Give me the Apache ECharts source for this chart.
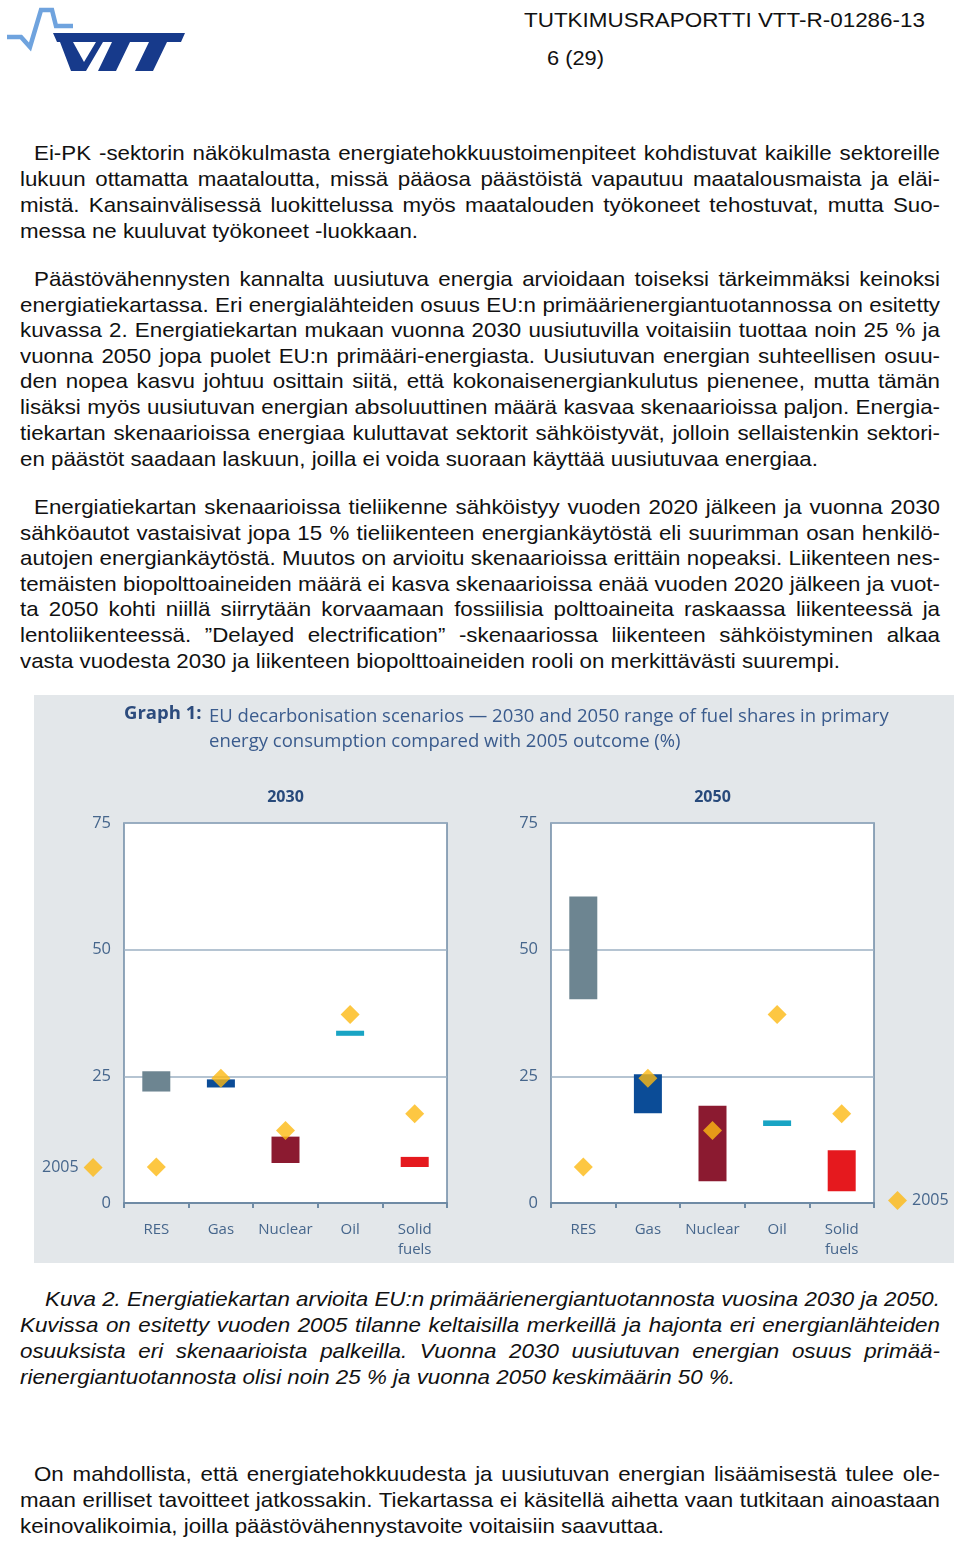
<!DOCTYPE html>
<html><head><meta charset="utf-8">
<script src="https://cdn.jsdelivr.net/npm/echarts@6/dist/echarts.min.js"></script>
<style>
html,body{margin:0;padding:0;background:#fff;}
body{width:960px;height:1541px;position:relative;overflow:hidden;font-family:"Liberation Sans",Arial,sans-serif;color:#111;}
.ln{position:absolute;white-space:nowrap;font-size:21px;line-height:26px;transform-origin:0 50%;display:inline-block;}
.it{font-style:italic;}
#chart{position:absolute;left:34px;top:695px;width:920px;height:568px;}
#logo{position:absolute;left:0;top:0;}
</style></head><body>
<svg id="logo" width="200" height="80" viewBox="0 0 200 80">
  <polyline points="7,37 21,37 30,47 41,10 52,10 56,26 73,26" fill="none" stroke="#6fa3de" stroke-width="4.5" stroke-linejoin="miter"/>
  <polygon fill="#173a8b" points="53,33 185,33 181,42 167,42 153,71 135,71 149,42 130,42 116,71 98,71 112,42 103,42 86,71 71,71 60,42 57,42"/>
  <polygon fill="#ffffff" points="73,42 96,42 84,62"/>
</svg>
<div class="ln" data-p="h1" data-x0="524" data-x1="925" style="top:7px">TUTKIMUSRAPORTTI VTT-R-01286-13</div>
<div class="ln" data-p="h2" data-x0="547" data-x1="604" style="top:45px">6 (29)</div>

<div class="ln" data-p="p1" data-j="1" data-x0="34" data-x1="940" style="top:140px">Ei-PK -sektorin näkökulmasta energiatehokkuustoimenpiteet kohdistuvat kaikille sektoreille</div>
<div class="ln" data-p="p1" data-j="1" data-x0="20" data-x1="940" style="top:166px">lukuun ottamatta maataloutta, missä pääosa päästöistä vapautuu maatalousmaista ja eläi-</div>
<div class="ln" data-p="p1" data-j="1" data-x0="20" data-x1="940" style="top:192px">mistä. Kansainvälisessä luokittelussa myös maatalouden työkoneet tehostuvat, mutta Suo-</div>
<div class="ln" data-p="p1" data-x0="20" data-x1="418" style="top:218px">messa ne kuuluvat työkoneet -luokkaan.</div>

<div class="ln" data-p="p2" data-j="1" data-x0="34" data-x1="940" style="top:266px">Päästövähennysten kannalta uusiutuva energia arvioidaan toiseksi tärkeimmäksi keinoksi</div>
<div class="ln" data-p="p2" data-j="1" data-x0="20" data-x1="940" style="top:292px">energiatiekartassa. Eri energialähteiden osuus EU:n primäärienergiantuotannossa on esitetty</div>
<div class="ln" data-p="p2" data-j="1" data-x0="20" data-x1="940" style="top:317px">kuvassa 2. Energiatiekartan mukaan vuonna 2030 uusiutuvilla voitaisiin tuottaa noin 25 % ja</div>
<div class="ln" data-p="p2" data-j="1" data-x0="20" data-x1="940" style="top:343px">vuonna 2050 jopa puolet EU:n primääri-energiasta. Uusiutuvan energian suhteellisen osuu-</div>
<div class="ln" data-p="p2" data-j="1" data-x0="20" data-x1="940" style="top:368px">den nopea kasvu johtuu osittain siitä, että kokonaisenergiankulutus pienenee, mutta tämän</div>
<div class="ln" data-p="p2" data-j="1" data-x0="20" data-x1="940" style="top:394px">lisäksi myös uusiutuvan energian absoluuttinen määrä kasvaa skenaarioissa paljon. Energia-</div>
<div class="ln" data-p="p2" data-j="1" data-x0="20" data-x1="940" style="top:420px">tiekartan skenaarioissa energiaa kuluttavat sektorit sähköistyvät, jolloin sellaistenkin sektori-</div>
<div class="ln" data-p="p2" data-x0="20" data-x1="818" style="top:446px">en päästöt saadaan laskuun, joilla ei voida suoraan käyttää uusiutuvaa energiaa.</div>

<div class="ln" data-p="p3" data-j="1" data-x0="34" data-x1="940" style="top:494px">Energiatiekartan skenaarioissa tieliikenne sähköistyy vuoden 2020 jälkeen ja vuonna 2030</div>
<div class="ln" data-p="p3" data-j="1" data-x0="20" data-x1="940" style="top:520px">sähköautot vastaisivat jopa 15 % tieliikenteen energiankäytöstä eli suurimman osan henkilö-</div>
<div class="ln" data-p="p3" data-j="1" data-x0="20" data-x1="940" style="top:545px">autojen energiankäytöstä. Muutos on arvioitu skenaarioissa erittäin nopeaksi. Liikenteen nes-</div>
<div class="ln" data-p="p3" data-j="1" data-x0="20" data-x1="940" style="top:571px">temäisten biopolttoaineiden määrä ei kasva skenaarioissa enää vuoden 2020 jälkeen ja vuot-</div>
<div class="ln" data-p="p3" data-j="1" data-x0="20" data-x1="940" style="top:596px">ta 2050 kohti niillä siirrytään korvaamaan fossiilisia polttoaineita raskaassa liikenteessä ja</div>
<div class="ln" data-p="p3" data-j="1" data-x0="20" data-x1="940" style="top:622px">lentoliikenteessä. ”Delayed electrification” -skenaariossa liikenteen sähköistyminen alkaa</div>
<div class="ln" data-p="p3" data-x0="20" data-x1="840" style="top:648px">vasta vuodesta 2030 ja liikenteen biopolttoaineiden rooli on merkittävästi suurempi.</div>

<div id="chart"></div>

<div class="ln it" data-p="c" data-j="1" data-x0="45" data-x1="940" style="top:1286px">Kuva 2. Energiatiekartan arvioita EU:n primäärienergiantuotannosta vuosina 2030 ja 2050.</div>
<div class="ln it" data-p="c" data-j="1" data-x0="20" data-x1="940" style="top:1312px">Kuvissa on esitetty vuoden 2005 tilanne keltaisilla merkeillä ja hajonta eri energianlähteiden</div>
<div class="ln it" data-p="c" data-j="1" data-x0="20" data-x1="940" style="top:1338px">osuuksista eri skenaarioista palkeilla. Vuonna 2030 uusiutuvan energian osuus primää-</div>
<div class="ln it" data-p="c" data-x0="20" data-x1="735" style="top:1364px">rienergiantuotannosta olisi noin 25 % ja vuonna 2050 keskimäärin 50 %.</div>

<div class="ln" data-p="p4" data-j="1" data-x0="34" data-x1="940" style="top:1461px">On mahdollista, että energiatehokkuudesta ja uusiutuvan energian lisäämisestä tulee ole-</div>
<div class="ln" data-p="p4" data-j="1" data-x0="20" data-x1="940" style="top:1487px">maan erilliset tavoitteet jatkossakin. Tiekartassa ei käsitellä aihetta vaan tutkitaan ainoastaan</div>
<div class="ln" data-p="p4" data-x0="20" data-x1="664" style="top:1513px">keinovalikoimia, joilla päästövähennystavoite voitaisiin saavuttaa.</div>

<script>
// ---- chart data ----
const categories = ['RES', 'Gas', 'Nuclear', 'Oil', 'Solid\nfuels'];
const low2030  = [22.0, 22.8, 7.9, 33.0, 7.1];
const high2030 = [26.0, 24.4, 13.1, 34.0, 9.1];
const low2050  = [40.2, 17.7, 4.3, 15.2, 2.3];
const high2050 = [60.5, 25.4, 19.2, 16.3, 10.4];
const share2005 = [7.1, 24.6, 14.3, 37.2, 17.6];
const yTicks = [0, 25, 50, 75];
const panelTitles = ['2030', '2050'];
const fuelColors = ['#6d8591', '#0b4c97', '#8b1a30', '#19a4c4', '#e5191e'];

// ---- text line fitting (paragraph-wise horizontal scale from the free last line) ----
const lines = Array.from(document.querySelectorAll('.ln'));
const groups = {};
lines.forEach(el => {
  el.style.left = el.dataset.x0 + 'px';
  el._w = el.getBoundingClientRect().width;
  (groups[el.dataset.p] = groups[el.dataset.p] || []).push(el);
});
Object.values(groups).forEach(g => {
  const free = g.find(el => el.dataset.j !== '1');
  const k = (+free.dataset.x1 - +free.dataset.x0) / free._w;
  g.forEach(el => {
    const t = +el.dataset.x1 - +el.dataset.x0;
    if (el.dataset.j !== '1') { el.style.transform = 'scaleX(' + k + ')'; return; }
    const spaces = (el.textContent.match(/ /g) || []).length;
    const scaled = el._w * k;
    if (scaled <= t && spaces) {
      el.style.wordSpacing = ((t - scaled) / spaces / k) + 'px';
      el.style.transform = 'scaleX(' + k + ')';
    } else {
      el.style.transform = 'scaleX(' + (t / el._w) + ')';
    }
  });
});

// ---- chart ----
const FONT = '"Open Sans", "Noto Sans", sans-serif';
const labelColor = '#46668c';
const frameColor = '#6f8ba5';
const chart = echarts.init(document.getElementById('chart'), null, {renderer: 'canvas'});
const gridLefts = [90, 517];

function yAxis(i) {
  return {
    gridIndex: i, type: 'value', min: yTicks[0], max: yTicks[yTicks.length - 1], interval: 25,
    axisLine: {show: false}, axisTick: {show: false},
    axisLabel: {margin: 13, color: labelColor, fontSize: 16.5, fontFamily: FONT},
    splitLine: {lineStyle: {color: '#9db1c3', width: 1.5}}
  };
}
function xAxis(i) {
  return {
    gridIndex: i, type: 'category', data: categories,
    axisLine: {show: true, lineStyle: {color: frameColor, width: 2}},
    axisTick: {show: true, length: 5, lineStyle: {color: frameColor, width: 2}},
    axisLabel: {interval: 0, margin: 17, color: labelColor, fontSize: 15, lineHeight: 20, fontFamily: FONT}
  };
}
function rangeSeries(i, lows, highs) {
  return [
    {type: 'bar', xAxisIndex: i, yAxisIndex: i, stack: 's' + i, barWidth: 28, silent: true,
     itemStyle: {color: 'transparent'}, data: lows},
    {type: 'bar', xAxisIndex: i, yAxisIndex: i, stack: 's' + i, barWidth: 28,
     data: highs.map((h, k) => ({value: +(h - lows[k]).toFixed(2), itemStyle: {color: fuelColors[k]}}))}
  ];
}
function dotSeries(i) {
  return {type: 'scatter', name: '2005', xAxisIndex: i, yAxisIndex: i, symbol: 'diamond',
          symbolSize: 19, itemStyle: {color: '#fdb913'}, data: share2005, z: 5};
}

chart.setOption({
  backgroundColor: '#e3e7ea',
  animation: false,
  title: [
    {text: 'Graph 1:', left: 90, top: 9, padding: 0, textStyle: {fontSize: 18.5, fontWeight: 'bold', color: '#2c4b7d', fontFamily: FONT}},
    {text: 'EU decarbonisation scenarios — 2030 and 2050 range of fuel shares in primary\nenergy consumption compared with 2005 outcome (%)',
     left: 175, top: 9, padding: 0, textStyle: {fontSize: 18.5, fontWeight: 'normal', lineHeight: 25, color: '#3a5b8d', fontFamily: FONT}},
    {text: panelTitles[0], left: 251.5, top: 94, padding: 0, textAlign: 'center', textStyle: {fontSize: 16, fontWeight: 'bold', color: '#284a7b', fontFamily: FONT}},
    {text: panelTitles[1], left: 678.5, top: 94, padding: 0, textAlign: 'center', textStyle: {fontSize: 16, fontWeight: 'bold', color: '#284a7b', fontFamily: FONT}}
  ],
  legend: [
    {data: ['2005'], left: 8, top: 463, padding: 0, align: 'right', icon: 'diamond', itemWidth: 19, itemHeight: 19,
     textStyle: {color: labelColor, fontSize: 16, fontFamily: FONT}, selectedMode: false},
    {data: ['2005'], left: 854, top: 496, padding: 0, align: 'left', icon: 'diamond', itemWidth: 19, itemHeight: 19,
     textStyle: {color: labelColor, fontSize: 16, fontFamily: FONT}, selectedMode: false}
  ],
  grid: gridLefts.map(l => ({left: l, top: 128, width: 323, height: 380, show: true,
    backgroundColor: '#ffffff', borderColor: frameColor, borderWidth: 1.5})),
  xAxis: [xAxis(0), xAxis(1)],
  yAxis: [yAxis(0), yAxis(1)],
  series: [
    ...rangeSeries(0, low2030, high2030), dotSeries(0),
    ...rangeSeries(1, low2050, high2050), dotSeries(1)
  ]
});
</script>
</body></html>
